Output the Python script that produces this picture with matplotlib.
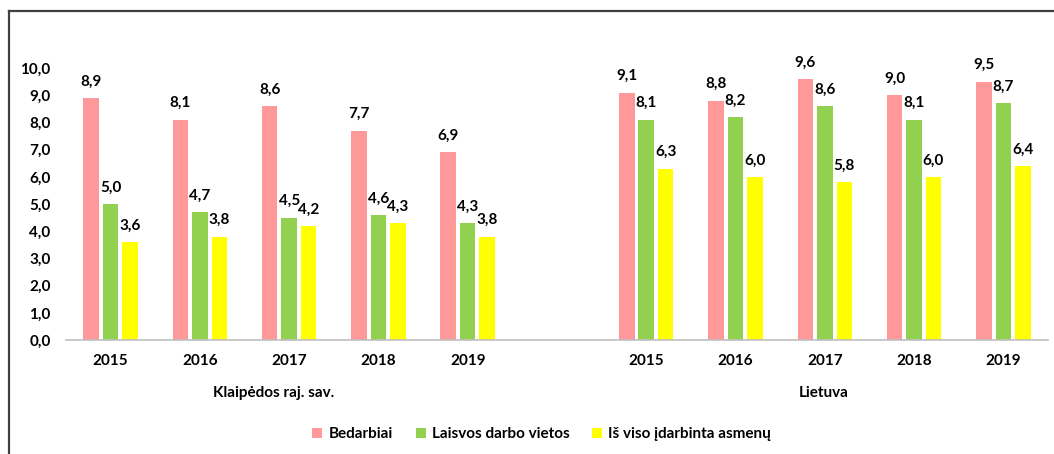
import matplotlib
matplotlib.use("Agg")
import matplotlib.pyplot as plt
from matplotlib.lines import Line2D
from matplotlib.patches import Patch

plt.rcParams['font.family'] = ['Lato', 'DejaVu Sans']
plt.rcParams['font.weight'] = 'bold'

# Duomenys
metai = ['2015', '2016', '2017', '2018', '2019']
grupes = ['Klaipėdos raj. sav.', 'Lietuva']
serijos = ['Bedarbiai', 'Laisvos darbo vietos', 'Iš viso įdarbinta asmenų']
spalvos = ['#FF9999', '#92D050', '#FFFF00']

bedarbiai = [8.9, 8.1, 8.6, 7.7, 6.9, 9.1, 8.8, 9.6, 9.0, 9.5]
laisvos_vietos = [5.0, 4.7, 4.5, 4.6, 4.3, 8.1, 8.2, 8.6, 8.1, 8.7]
idarbinta = [3.6, 3.8, 4.2, 4.3, 3.8, 6.3, 6.0, 5.8, 6.0, 6.4]

# pozicijos: 5 metai, tuscias tarpas, 5 metai
x = list(range(5)) + list(range(6, 11))
plotis = 0.174
zingsnis = 0.218
fs = 11

fig = plt.figure(figsize=(10.54, 4.54), dpi=100)
ax = fig.add_axes([0.0626, 0.251, 0.9317, 0.599])

for i, (vals, spalva) in enumerate(zip([bedarbiai, laisvos_vietos, idarbinta], spalvos)):
    xs = [p + (i - 1) * zingsnis for p in x]
    ax.bar(xs, vals, width=plotis, color=spalva, zorder=2)
    for xi, v in zip(xs, vals):
        ax.annotate(f"{v:.1f}".replace('.', ','), (xi, v), xytext=(0, 9),
                    textcoords='offset points', ha='center', va='baseline',
                    fontsize=fs, fontweight='bold', annotation_clip=False)

ax.set_xlim(-0.5, 10.5)
ax.set_ylim(0, 10)
ax.set_yticks([i for i in range(11)])
ax.set_yticklabels([f"{i:.1f}".replace('.', ',') for i in range(11)], fontsize=fs, fontweight='bold')
ax.set_xticks(x)
ax.set_xticklabels(metai * 2, fontsize=fs, fontweight='bold')
ax.tick_params(axis='both', length=0)
ax.tick_params(axis='y', pad=11)
ax.tick_params(axis='x', pad=10)
for s in ['top', 'right', 'left']:
    ax.spines[s].set_visible(False)
ax.spines['bottom'].set_color('#BFBFBF')
ax.spines['bottom'].set_linewidth(1.2)

# grupiu pavadinimai
fig.text(274 / 1054, 1 - 393 / 454, grupes[0], ha='center', va='center', fontsize=fs, fontweight='bold')
fig.text(824 / 1054, 1 - 393 / 454, grupes[1], ha='center', va='center', fontsize=fs, fontweight='bold')

# legenda
handles = [Patch(facecolor=c, edgecolor='none') for c in spalvos]
fig.legend(handles, serijos, loc='center', bbox_to_anchor=(0.514, 1 - 434 / 454), ncol=3,
           frameon=False, handlelength=0.65, handleheight=0.65,
           handletextpad=0.4, columnspacing=1.5, prop={'weight': 'bold', 'size': fs})

# remelio linijos
fig.add_artist(Line2D([8.5 / 1054, 1], [1 - 11 / 454, 1 - 11 / 454], color='#404040', lw=1.6,
                      transform=fig.transFigure))
fig.add_artist(Line2D([8.5 / 1054, 8.5 / 1054], [0, 1 - 11 / 454], color='#404040', lw=1.6,
                      transform=fig.transFigure))

fig.savefig("out.png", dpi=100)
